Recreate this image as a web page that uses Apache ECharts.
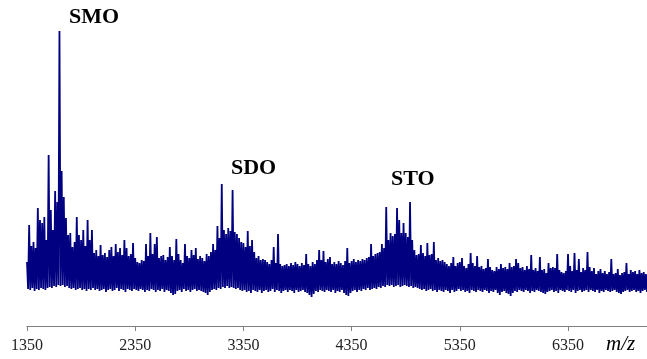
<!DOCTYPE html>
<html>
<head>
<meta charset="utf-8">
<script src="https://cdn.jsdelivr.net/npm/echarts@6/dist/echarts.min.js"></script>
<style>
  html, body {margin: 0; padding: 0; background: #fff;}
  #chart {width: 647px; height: 359px;}
</style>
</head>
<body>
<div id="chart"></div>
<script>
// sampling of the trace: upper points at 1350 + 20*i, lower points 10 m/z later
const mzStart = 1350
const mzStep = 20
const tickLabels = [1350, 2350, 3350, 4350, 5350, 6350]

// noise tops / spikes (arbitrary intensity units)
const upper = [
  64, 101, 80, 84, 78, 118, 106, 103, 109, 86,
  171, 116, 96, 135, 124, 295, 155, 129, 108, 91,
  93, 79, 84, 109, 91, 86, 96, 80, 106, 86,
  96, 73, 76, 70, 81, 71, 73, 69, 76, 79,
  70, 82, 74, 78, 71, 86, 78, 70, 72, 83,
  68, 64, 63, 66, 65, 82, 70, 93, 72, 82,
  89, 68, 70, 71, 66, 69, 79, 70, 66, 87,
  72, 66, 63, 82, 70, 68, 76, 71, 78, 67,
  70, 68, 65, 72, 70, 74, 82, 76, 100, 88,
  142, 96, 92, 98, 95, 136, 94, 92, 88, 84,
  83, 79, 95, 80, 86, 74, 68, 70, 66, 67,
  66, 64, 62, 66, 79, 63, 92, 62, 60, 61,
  62, 60, 63, 61, 64, 62, 60, 63, 61, 72,
  62, 60, 64, 62, 66, 76, 66, 75, 64, 67,
  69, 62, 64, 62, 65, 63, 61, 65, 78, 63,
  65, 67, 64, 66, 65, 67, 66, 68, 69, 82,
  70, 72, 73, 74, 82, 78, 119, 86, 93, 90,
  92, 118, 106, 93, 103, 93, 89, 124, 86, 76,
  71, 72, 81, 73, 70, 83, 71, 72, 84, 66,
  68, 65, 66, 64, 62, 60, 63, 69, 60, 63,
  64, 68, 60, 58, 62, 73, 63, 60, 70, 59,
  60, 57, 58, 67, 59, 56, 55, 59, 57, 62,
  58, 59, 57, 63, 59, 60, 67, 63, 58, 59,
  56, 60, 57, 71, 56, 58, 55, 69, 56, 57,
  53, 63, 58, 59, 58, 72, 56, 54, 53, 55,
  72, 60, 55, 73, 56, 67, 54, 58, 56, 74,
  59, 55, 58, 52, 55, 57, 53, 55, 52, 54,
  67, 52, 53, 57, 51, 53, 54, 63, 52, 56,
  54, 55, 52, 56, 53, 54, 52
]

// noise bottoms
const lower = [
  37, 36, 38, 35, 37, 36, 38, 37, 36, 38,
  39, 38, 40, 39, 41, 40, 41, 39, 40, 38,
  37, 38, 36, 37, 38, 36, 37, 35, 37, 36,
  38, 36, 37, 35, 36, 37, 34, 36, 37, 35,
  36, 38, 35, 37, 36, 34, 37, 36, 35, 37,
  36, 35, 37, 36, 34, 36, 35, 37, 36, 34,
  36, 35, 37, 34, 36, 35, 33, 31, 32, 35,
  36, 34, 37, 35, 36, 34, 36, 37, 35, 36,
  35, 34, 33, 31, 34, 36, 37, 36, 38, 37,
  39, 38, 40, 38, 39, 38, 37, 38, 36, 35,
  36, 34, 35, 33, 36, 35, 34, 36, 33, 35,
  36, 34, 35, 37, 34, 36, 35, 33, 35, 36,
  34, 36, 35, 33, 36, 34, 35, 36, 34, 33,
  31, 29, 32, 35, 34, 36, 35, 34, 36, 35,
  34, 36, 33, 35, 34, 36, 33, 31, 30, 33,
  35, 36, 34, 36, 35, 37, 36, 38, 36, 37,
  38, 37, 39, 38, 40, 39, 41, 40, 41, 39,
  40, 41, 39, 40, 41, 40, 39, 40, 38, 39,
  38, 37, 36, 37, 35, 36, 37, 35, 36, 34,
  36, 35, 34, 36, 35, 33, 36, 34, 35, 37,
  35, 36, 34, 35, 33, 36, 35, 34, 36, 35,
  34, 36, 35, 33, 35, 34, 36, 33, 31, 34,
  35, 33, 32, 30, 33, 35, 34, 36, 35, 34,
  36, 35, 33, 35, 34, 36, 35, 34, 33, 32,
  34, 35, 36, 34, 35, 33, 36, 35, 34, 36,
  35, 34, 36, 33, 35, 36, 34, 35, 36, 34,
  36, 35, 34, 36, 33, 35, 34, 36, 35, 34,
  35, 36, 34, 33, 32, 34, 35, 36, 34, 35,
  36, 34, 35, 33, 35, 36, 34
]

// zig-zag trace
const trace = []
upper.forEach((v, i) => {
  trace.push([mzStart + mzStep * i, v])
  trace.push([mzStart + mzStep * i + mzStep / 2, lower[i]])
})

const chart = echarts.init(document.getElementById('chart'))
const peakFont = 'bold 22px "Liberation Serif", "Times New Roman", serif'

chart.setOption({
  animation: false,
  grid: {left: 27, right: 0, top: 26, bottom: 33},
  xAxis: {
    type: 'value',
    min: 1350,
    max: 7080,
    interval: 1000,
    splitLine: {show: false},
    axisLine: {lineStyle: {color: '#7f7f7f', width: 1}},
    axisTick: {customValues: tickLabels, length: 5, lineStyle: {color: '#7f7f7f'}},
    axisLabel: {
      customValues: tickLabels,
      formatter: v => String(v),
      margin: 12,
      color: '#222',
      fontSize: 16,
      fontFamily: '"Liberation Serif", "Times New Roman", serif'
    }
  },
  yAxis: {type: 'value', min: 0, max: 300, show: false},
  graphic: [
    {type: 'text', left: 69, top: 6, style: {text: 'SMO', font: peakFont, fill: '#000'}},
    {type: 'text', left: 231, top: 157, style: {text: 'SDO', font: peakFont, fill: '#000'}},
    {type: 'text', left: 391, top: 168, style: {text: 'STO', font: peakFont, fill: '#000'}},
    {type: 'text', left: 606, top: 334, style: {text: 'm/z', font: 'italic 21px "Liberation Serif", "Times New Roman", serif', fill: '#000'}}
  ],
  series: [{
    type: 'line',
    data: trace,
    showSymbol: false,
    lineStyle: {color: '#000080', width: 1.8, join: 'bevel'}
  }]
})
</script>
</body>
</html>
